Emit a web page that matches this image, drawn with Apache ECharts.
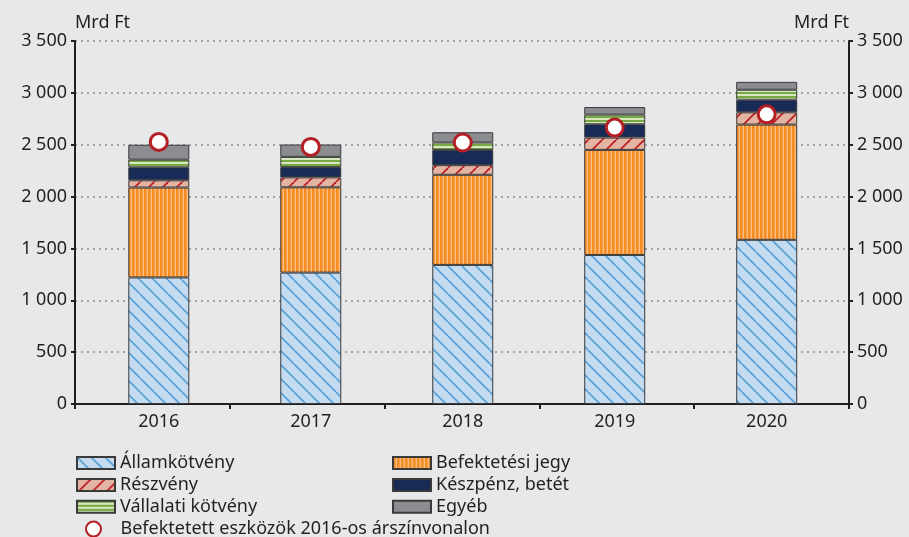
<!DOCTYPE html>
<html>
<head>
<meta charset="utf-8">
<script src="https://cdn.jsdelivr.net/npm/echarts@6/dist/echarts.min.js"></script>
<style>
  html, body { margin: 0; padding: 0; background: #e7e8ea; }
  #chart { width: 909px; height: 537px; }
</style>
</head>
<body>
<div id="chart"></div>
<script>
  // adatok (Mrd Ft)
  var years = ['2016', '2017', '2018', '2019', '2020'];
  var allamkotveny = [1220, 1267, 1341, 1437, 1583];
  var befektetesiJegy = [867, 822, 869, 1013, 1111];
  var reszveny = [70, 96, 93, 119, 118];
  var keszpenz = [125, 99, 147, 128, 122];
  var vallalatiKotveny = [74, 99, 71, 93, 96];
  var egyeb = [144, 119, 99, 73, 76];
  var arszinvonal2016 = [2527, 2479, 2521, 2665, 2793];

  var FONT = '"Noto Sans", sans-serif';
  var FS = 18;
  var TEXT = '#231f20';

  // mintázatok canvasra
  function tile(w, h, bg, draw) {
    var c = document.createElement('canvas');
    c.width = w;
    c.height = h;
    var ctx = c.getContext('2d');
    ctx.fillStyle = bg;
    ctx.fillRect(0, 0, w, h);
    draw(ctx, w, h);
    return { image: c, repeat: 'repeat' };
  }

  var blueHatch = tile(14, 14, '#c4dbf0', function(ctx, s) {
    ctx.strokeStyle = '#5aa1d9';
    ctx.lineWidth = 1.7;
    [-s, 0, s].forEach(function(o) {
      ctx.beginPath();
      ctx.moveTo(o, 0);
      ctx.lineTo(o + s, s);
      ctx.stroke();
    });
  });

  var redHatch = tile(14, 14, '#e3b3a3', function(ctx, s) {
    ctx.strokeStyle = '#bf2026';
    ctx.lineWidth = 1.8;
    [-s, 0, s].forEach(function(o) {
      ctx.beginPath();
      ctx.moveTo(o, s);
      ctx.lineTo(o + s, 0);
      ctx.stroke();
    });
  });

  var orangeStripes = tile(4, 4, '#f68d22', function(ctx) {
    ctx.fillStyle = '#fbbf86';
    ctx.fillRect(2.6, 0, 1.4, 4);
  });

  var greenStripes = tile(4, 4, '#d6e7c2', function(ctx) {
    ctx.fillStyle = '#77a843';
    ctx.fillRect(0, 0, 4, 2);
  });

  function fmt(v) {
    var s = String(v);
    return s.length > 3 ? s.slice(0, s.length - 3) + ' ' + s.slice(-3) : s;
  }

  function barSeries(name, data, color) {
    return {
      name: name,
      type: 'bar',
      stack: 'total',
      xAxisIndex: 1,
      yAxisIndex: 2,
      barWidth: 61,
      data: data,
      itemStyle: { color: color, borderColor: '#3a3a3a', borderWidth: 1 },
      emphasis: { disabled: true }
    };
  }

  var chart = echarts.init(document.getElementById('chart'), null, { renderer: 'canvas' });

  var yAxisBase = {
    type: 'value',
    gridIndex: 0,
    min: 0,
    max: 3500,
    interval: 500,
    name: 'Mrd Ft',
    nameLocation: 'end',
    nameGap: 9,
    axisLine: { show: true, lineStyle: { color: TEXT, width: 2 } },
    axisTick: { show: true, length: 4, lineStyle: { color: TEXT, width: 2 } },
    axisLabel: { color: TEXT, fontFamily: FONT, fontSize: FS, margin: 8, formatter: fmt }
  };

  var legendText = { color: TEXT, fontFamily: FONT, fontSize: FS, lineHeight: 18 };

  chart.setOption({
    backgroundColor: '#e7e8ea',
    animation: false,
    grid: [
      // a tengelyek kerete
      { left: 75, right: 60, top: 41, bottom: 133 },
      // az oszlopok kicsit szűkebben helyezkednek el
      { left: 82.8, right: 66.3, top: 41, bottom: 133 }
    ],
    xAxis: [
      {
        type: 'category',
        gridIndex: 0,
        data: years,
        axisLine: { lineStyle: { color: TEXT, width: 2 } },
        axisTick: { show: true, length: 5, lineStyle: { color: TEXT, width: 2 } },
        axisLabel: { show: false }
      },
      {
        type: 'category',
        gridIndex: 1,
        data: years,
        axisLine: { show: false },
        axisTick: { show: false },
        axisLabel: { color: TEXT, fontFamily: FONT, fontSize: FS, margin: 9 }
      }
    ],
    yAxis: [
      Object.assign({}, yAxisBase, {
        position: 'left',
        nameTextStyle: { color: TEXT, fontFamily: FONT, fontSize: FS, align: 'left' },
        splitLine: { show: true, lineStyle: { color: '#8a8a8a', type: [2, 4], width: 1.5 } }
      }),
      Object.assign({}, yAxisBase, {
        position: 'right',
        nameTextStyle: { color: TEXT, fontFamily: FONT, fontSize: FS, align: 'right' },
        splitLine: { show: false }
      }),
      {
        type: 'value',
        gridIndex: 1,
        min: 0,
        max: 3500,
        show: false
      }
    ],
    legend: [
      {
        left: 76, top: 454, orient: 'vertical', itemGap: 3.9, padding: 0,
        itemWidth: 38, itemHeight: 12, icon: 'rect',
        textStyle: legendText,
        data: ['Államkötvény', 'Részvény', 'Vállalati kötvény']
      },
      {
        left: 392, top: 454, orient: 'vertical', itemGap: 3.9, padding: 0,
        itemWidth: 38, itemHeight: 12, icon: 'rect',
        textStyle: legendText,
        data: ['Befektetési jegy', 'Készpénz, betét', 'Egyéb']
      },
      {
        left: 85, top: 520, padding: 0,
        itemWidth: 30, itemHeight: 15,
        textStyle: Object.assign({}, legendText, { padding: [0, 0, 0, 7] }),
        data: ['Befektetett eszközök 2016-os árszínvonalon']
      }
    ],
    series: [
      barSeries('Államkötvény', allamkotveny, blueHatch),
      barSeries('Befektetési jegy', befektetesiJegy, orangeStripes),
      barSeries('Részvény', reszveny, redHatch),
      barSeries('Készpénz, betét', keszpenz, '#172b56'),
      barSeries('Vállalati kötvény', vallalatiKotveny, greenStripes),
      barSeries('Egyéb', egyeb, '#8c8d91'),
      {
        name: 'Befektetett eszközök 2016-os árszínvonalon',
        type: 'scatter',
        xAxisIndex: 1,
        yAxisIndex: 2,
        data: arszinvonal2016,
        symbol: 'circle',
        symbolSize: 17,
        z: 5,
        itemStyle: { color: '#ffffff', borderColor: '#b31f25', borderWidth: 3, opacity: 1 },
        emphasis: { disabled: true }
      }
    ]
  });

  window.addEventListener('resize', function() { chart.resize(); });
</script>
</body>
</html>
